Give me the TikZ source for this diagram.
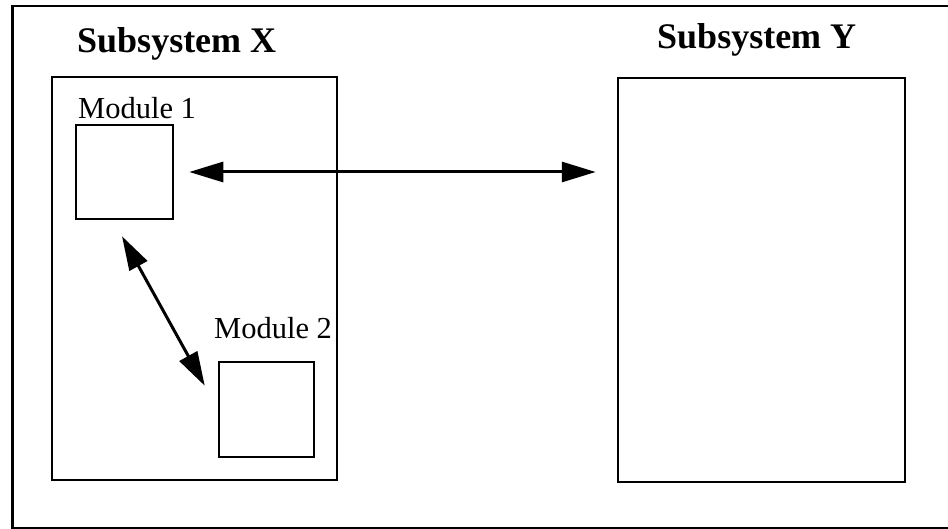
\documentclass[tikz,border=0pt]{standalone}
\usepackage{fontspec}
\setmainfont{Liberation Serif}
\usetikzlibrary{arrows.meta,calc}
\begin{document}
\begin{tikzpicture}[x=1pt,y=-1pt,
  box/.style={draw,line width=2.5pt,rectangle,inner sep=0pt},
  title/.style={anchor=base west,inner sep=0pt,font=\fontsize{36}{40}\selectfont\bfseries},
  modlabel/.style={anchor=base west,inner sep=0pt,font=\fontsize{30.5}{34}\selectfont},
  link/.style={line width=3pt,{Triangle[length=34pt,width=20pt]}-{Triangle[length=34pt,width=20pt]}}]
\useasboundingbox (0,0) rectangle (948,529);
\fill[white] (0,0) rectangle (948,529);
\node[box,minimum width=950pt,minimum height=522pt,anchor=north west] (frame) at (11,5) {};
\node[box,minimum width=285pt,minimum height=403pt] (subX) at (194.5,278.5) {};
\node[box,minimum width=287pt,minimum height=404pt] (subY) at (761.5,280) {};
\node[box,minimum width=97pt,minimum height=94pt] (m1) at (124.5,172) {};
\node[box,minimum width=95pt,minimum height=95pt] (m2) at (266.5,409.5) {};
\node[title] (tX) at (77,53) {Subsystem X};
\node[title] (tY) at (657,49) {Subsystem Y};
\node[modlabel] (l1) at (78,119) {Module 1};
\node[modlabel] (l2) at (214,339) {Module 2};
\draw[link,shorten <=15pt,shorten >=21pt] (m1.east) -- (m1.east -| subY.west);
\draw[link] ($(m1.south)+(-2.5,16)$) -- ($(m2.north west)+(-13,25)$);
\end{tikzpicture}
\end{document}
